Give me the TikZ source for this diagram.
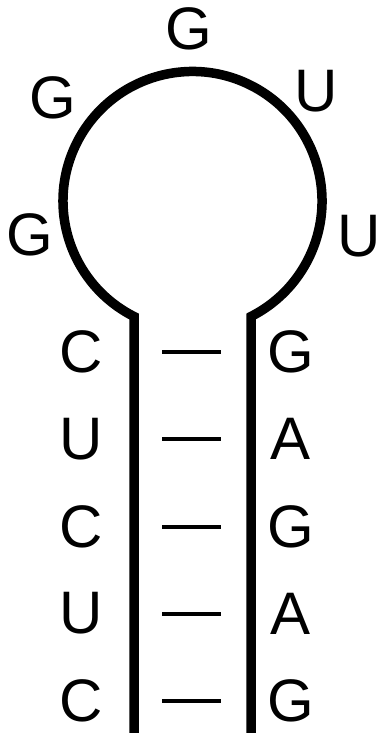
\documentclass[tikz,border=0pt]{standalone}
\usepackage{fontspec}
\setmainfont{Liberation Sans}
\begin{document}
\begin{tikzpicture}[x=1pt,y=-1pt,
  base/.style={font=\fontsize{60}{60}\selectfont, inner sep=0pt, anchor=center},
  strand/.style={line width=9.5pt, line join=miter},
  pair/.style={line width=4pt}]
\useasboundingbox (0,0) rectangle (381,733);
% backbone
\coordinate (lbot) at (134,733);
\coordinate (ltop) at (134,316.5);
\coordinate (rbot) at (251,733);
\draw[strand] (lbot) -- (ltop) arc[start angle=116.86, end angle=423.14, radius=129.5] -- (rbot);
% loop bases
\node[base] (g1) at (30,235) {G};
\node[base] (g2) at (52.5,98) {G};
\node[base] (g3) at (189,29) {G};
\node[base] (u1) at (316,91) {U};
\node[base] (u2) at (359,236) {U};
% stem bases and pairs
\foreach \i/\l/\r/\y in {1/C/G/352, 2/U/A/439, 3/C/G/526.5, 4/U/A/613.5, 5/C/G/701} {
  \node[base] (L\i) at (81,\y) {\l};
  \node[base] (R\i) at (291,\y) {\r};
  \coordinate (pl\i) at (162,\y);
  \coordinate (pr\i) at (221,\y);
  \draw[pair] (pl\i) -- (pr\i);
}
\end{tikzpicture}
\end{document}
